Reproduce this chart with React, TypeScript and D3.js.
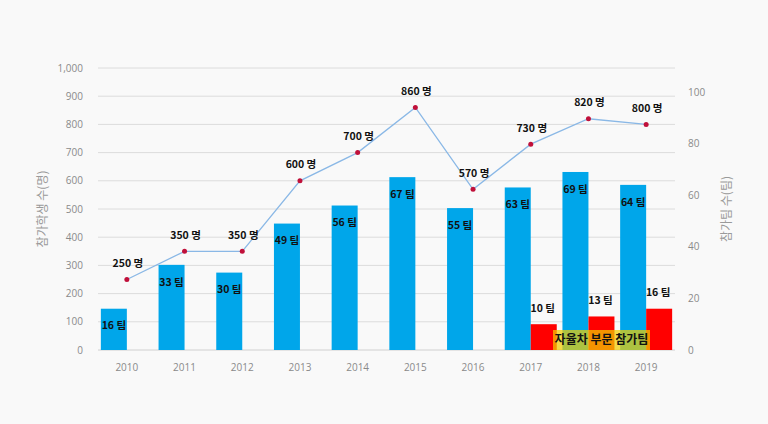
import React from "react";
import * as d3 from "d3";

const years = ["2010","2011","2012","2013","2014","2015","2016","2017","2018","2019"];
const students = [250,350,350,600,700,860,570,730,820,800];
const teams = [16,33,30,49,56,67,55,63,69,64];
const autoTeams: (number|null)[] = [null,null,null,null,null,null,null,10,13,16];
const leftTicks = [0,100,200,300,400,500,600,700,800,900,1000];
const rightTicks = [0,20,40,60,80,100];

const W = 768, H = 424;
const font = "'Noto Sans CJK KR', 'Noto Sans', sans-serif";

export default function App() {
  const x = d3.scaleBand<string>().domain(years).range([98, 675]).padding(0);
  const yL = d3.scaleLinear().domain([0, 1000]).range([350, 68]);
  const yR = d3.scaleLinear().domain([0, 100]).range([350, 92]);
  const cx = (y: string) => (x(y) as number) + x.bandwidth() / 2;
  const bw = 26;
  const line = d3.line<number>().x((_, i) => cx(years[i])).y(d => yL(d));

  return (
    <svg width={W} height={H} style={{ position: "absolute", left: 0, top: 0, background: "#f9f9f9" }}>
      <rect x={0} y={0} width={W} height={H} fill="#f9f9f9" />
      {leftTicks.map(t => (
        <g key={"l" + t}>
          {t > 0 && <line x1={98} x2={675} y1={yL(t)} y2={yL(t)} stroke="#dcdcdc" strokeWidth={1} />}
          <text x={83} y={yL(t)} dy="0.35em" textAnchor="end" fontSize={10} fill="#8a8a8a" fontFamily="'Open Sans', sans-serif">
            {d3.format(",")(t)}
          </text>
        </g>
      ))}
      {rightTicks.map(t => (
        <text key={"r" + t} x={688} y={yR(t)} dy="0.35em" textAnchor="start" fontSize={10} fill="#8a8a8a" fontFamily="'Open Sans', sans-serif">
          {t}
        </text>
      ))}
      <line x1={98} x2={675} y1={350} y2={350} stroke="#d0d0d0" />
      {years.map(y => (
        <text key={"x" + y} x={cx(y)} y={367} dy="0.35em" textAnchor="middle" fontSize={10} fill="#8a8a8a" fontFamily="'Open Sans', sans-serif">
          {y}
        </text>
      ))}
      <text transform={`translate(43,209) rotate(-90)`} textAnchor="middle" dy="0.35em" fontSize={12} fill="#9a9a9a" fontFamily={font}>참가학생 수(명)</text>
      <text transform={`translate(727,209) rotate(-90)`} textAnchor="middle" dy="0.35em" fontSize={12} fill="#9a9a9a" fontFamily={font}>참가팀 수(팀)</text>
      {teams.map((v, i) => (
        <rect key={"b" + i} x={cx(years[i]) - bw} y={yR(v)} width={bw} height={350 - yR(v)} fill="#00a6ea" />
      ))}
      {autoTeams.map((v, i) => v == null ? null : (
        <rect key={"rb" + i} x={cx(years[i])} y={yR(v)} width={bw} height={350 - yR(v)} fill="#ff0000" />
      ))}
      <path d={line(students) || ""} fill="none" stroke="#8ab8e6" strokeWidth={1.3} />
      {students.map((v, i) => (
        <circle key={"p" + i} cx={cx(years[i])} cy={yL(v)} r={2.5} fill="#c0103a" />
      ))}
      {students.map((v, i) => (
        <text key={"sl" + i} x={cx(years[i]) + 1} y={yL(v) - 16} dy="0.35em" textAnchor="middle" fontSize={10.5} fontWeight="bold" fill="#111" fontFamily={font}>
          {v} 명
        </text>
      ))}
      {teams.map((v, i) => (
        <text key={"tl" + i} x={cx(years[i]) - bw / 2} y={yR(v) + 17} dy="0.35em" textAnchor="middle" fontSize={10.5} fontWeight="bold" fill="#111" fontFamily={font}>
          {v} 팀
        </text>
      ))}
      {autoTeams.map((v, i) => v == null ? null : (
        <text key={"al" + i} x={cx(years[i]) + bw / 2 - 1} y={yR(v) - 16} dy="0.35em" textAnchor="middle" fontSize={10.5} fontWeight="bold" fill="#111" fontFamily={font}>
          {v} 팀
        </text>
      ))}
      <rect x={553} y={330} width={97} height={20} fill="rgba(240,205,0,0.72)" />
      <text x={601.5} y={340} dy="0.35em" textAnchor="middle" fontSize={12} fontWeight="bold" fill="#111" fontFamily={font}>자율차 부문 참가팀</text>
    </svg>
  );
}
